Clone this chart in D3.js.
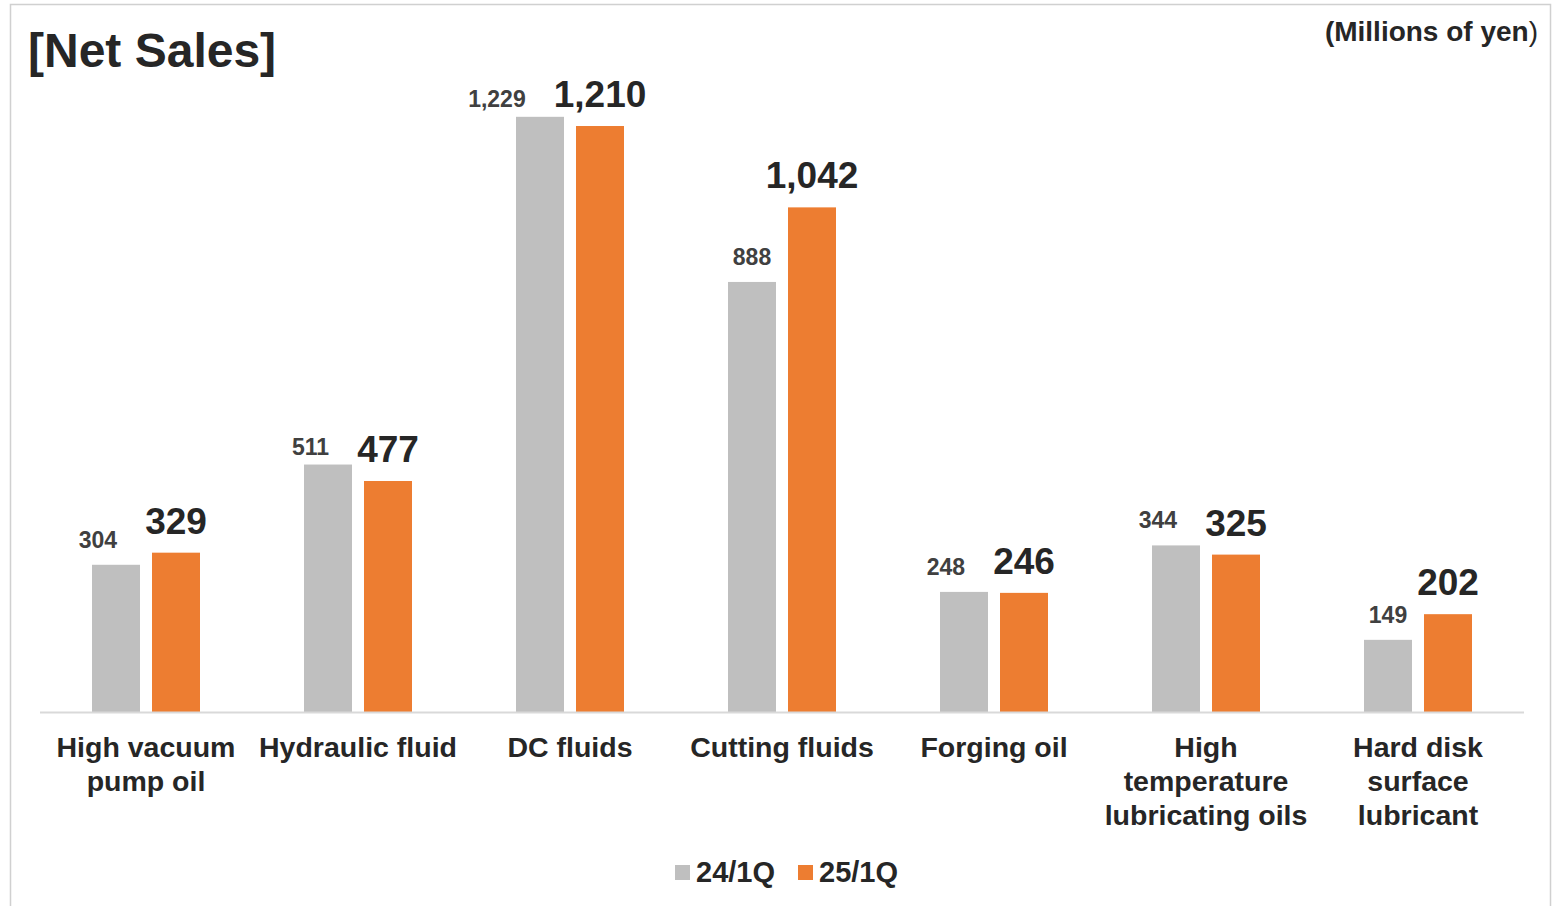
<!DOCTYPE html>
<html>
<head>
<meta charset="utf-8">
<script src="https://cdn.jsdelivr.net/npm/d3@7"></script>
<style>
  body { margin: 0; background: #fff; }
  svg { display: block; font-family: "Liberation Sans", Arial, sans-serif; }
</style>
</head>
<body>
<svg id="chart" width="1552" height="906"></svg>
<script>
const categories = [
  ['High vacuum', 'pump oil'],
  ['Hydraulic fluid'],
  ['DC fluids'],
  ['Cutting fluids'],
  ['Forging oil'],
  ['High', 'temperature', 'lubricating oils'],
  ['Hard disk', 'surface', 'lubricant']
]
const seriesNames = ['24/1Q', '25/1Q']
const prevValues = [304, 511, 1229, 888, 248, 344, 149]
const currValues = [329, 477, 1210, 1042, 246, 325, 202]
const colors = ['#BFBFBF', '#ED7D31']

const svg = d3.select('#chart')
const fmt = d3.format(',')

// frame
svg.append('rect')
  .attr('x', 10.5).attr('y', 4.5)
  .attr('width', 1540).attr('height', 1000)
  .attr('fill', 'none').attr('stroke', '#D0D0D0').attr('stroke-width', 1.5)

let x = d3.scaleBand()
  .domain(d3.range(categories.length))
  .range([40, 1524])

let y = d3.scaleLinear()
  .domain([0, 1400])
  .range([712, 34])

let barW = 48, gap = 12

// bars
let groups = svg.append('g').selectAll('g')
  .data(categories.map((c, i) => ({ i, prev: prevValues[i], curr: currValues[i] })))
  .enter().append('g')

groups.append('rect')
  .attr('x', d => x(d.i) + x.bandwidth() / 2 - gap / 2 - barW)
  .attr('y', d => y(d.prev))
  .attr('width', barW)
  .attr('height', d => y(0) - y(d.prev))
  .attr('fill', colors[0])

groups.append('rect')
  .attr('x', d => x(d.i) + x.bandwidth() / 2 + gap / 2)
  .attr('y', d => y(d.curr))
  .attr('width', barW)
  .attr('height', d => y(0) - y(d.curr))
  .attr('fill', colors[1])

// axis line
svg.append('line')
  .attr('x1', x.range()[0]).attr('x2', x.range()[1])
  .attr('y1', y(0) + 0.5).attr('y2', y(0) + 0.5)
  .attr('stroke', '#D9D9D9').attr('stroke-width', 2)

// orange labels (centred)
groups.append('text')
  .attr('x', d => x(d.i) + x.bandwidth() / 2 + gap / 2 + barW / 2)
  .attr('y', d => y(d.curr) - 19)
  .attr('text-anchor', 'middle')
  .attr('font-size', 37).attr('font-weight', 'bold')
  .attr('fill', '#262626')
  .text(d => fmt(d.curr))

// gray labels, pushed left when they would hit the orange label
groups.each(function (d) {
  let g = d3.select(this)
  let cx = x(d.i) + x.bandwidth() / 2 - gap / 2 - barW / 2
  let base = y(d.prev) - 17
  let t = g.append('text')
    .attr('text-anchor', 'middle')
    .attr('font-size', 23).attr('font-weight', 'bold')
    .attr('fill', '#404040')
    .text(fmt(d.prev))
  let w = t.node().getComputedTextLength()
  let ob = g.select('text').node().getBBox()
  if (base + 4 > ob.y && base - 17 < ob.y + ob.height) {
    cx = Math.min(cx, ob.x - 28 - w / 2)
    // on the tall pairs where grey is higher the label sits closer to the bar
    if (d.prev - d.curr > 10 && d.prev > 400) base = y(d.prev) - 10
  }
  t.attr('x', cx).attr('y', base)
})

// category labels
groups.append('text')
  .attr('text-anchor', 'middle')
  .attr('font-size', 28.5).attr('font-weight', 'bold')
  .attr('fill', '#262626')
  .selectAll('tspan')
  .data(d => categories[d.i].map(line => ({ line, i: d.i })))
  .enter().append('tspan')
  .attr('x', d => x(d.i) + x.bandwidth() / 2)
  .attr('y', (d, k) => 757 + k * 34)
  .text(d => d.line)

// title
svg.append('text')
  .attr('x', 28).attr('y', 67)
  .attr('font-size', 48).attr('font-weight', 'bold')
  .attr('fill', '#262626')
  .text('[Net Sales]')

let unit = svg.append('text')
  .attr('x', 1538).attr('y', 41)
  .attr('text-anchor', 'end')
  .attr('font-size', 28)
  .attr('fill', '#262626')
unit.append('tspan').attr('font-weight', 'bold').text('(Millions of yen')
unit.append('tspan').text(')')

// legend
let legend = svg.append('g').selectAll('g')
  .data(seriesNames)
  .enter().append('g')
  .attr('transform', (d, i) => `translate(${675 + i * 123},865)`)

legend.append('rect')
  .attr('width', 15).attr('height', 15)
  .attr('fill', (d, i) => colors[i])

legend.append('text')
  .attr('x', 21).attr('y', 17)
  .attr('font-size', 29).attr('font-weight', 'bold')
  .attr('fill', '#262626')
  .text(d => d)
</script>
</body>
</html>
